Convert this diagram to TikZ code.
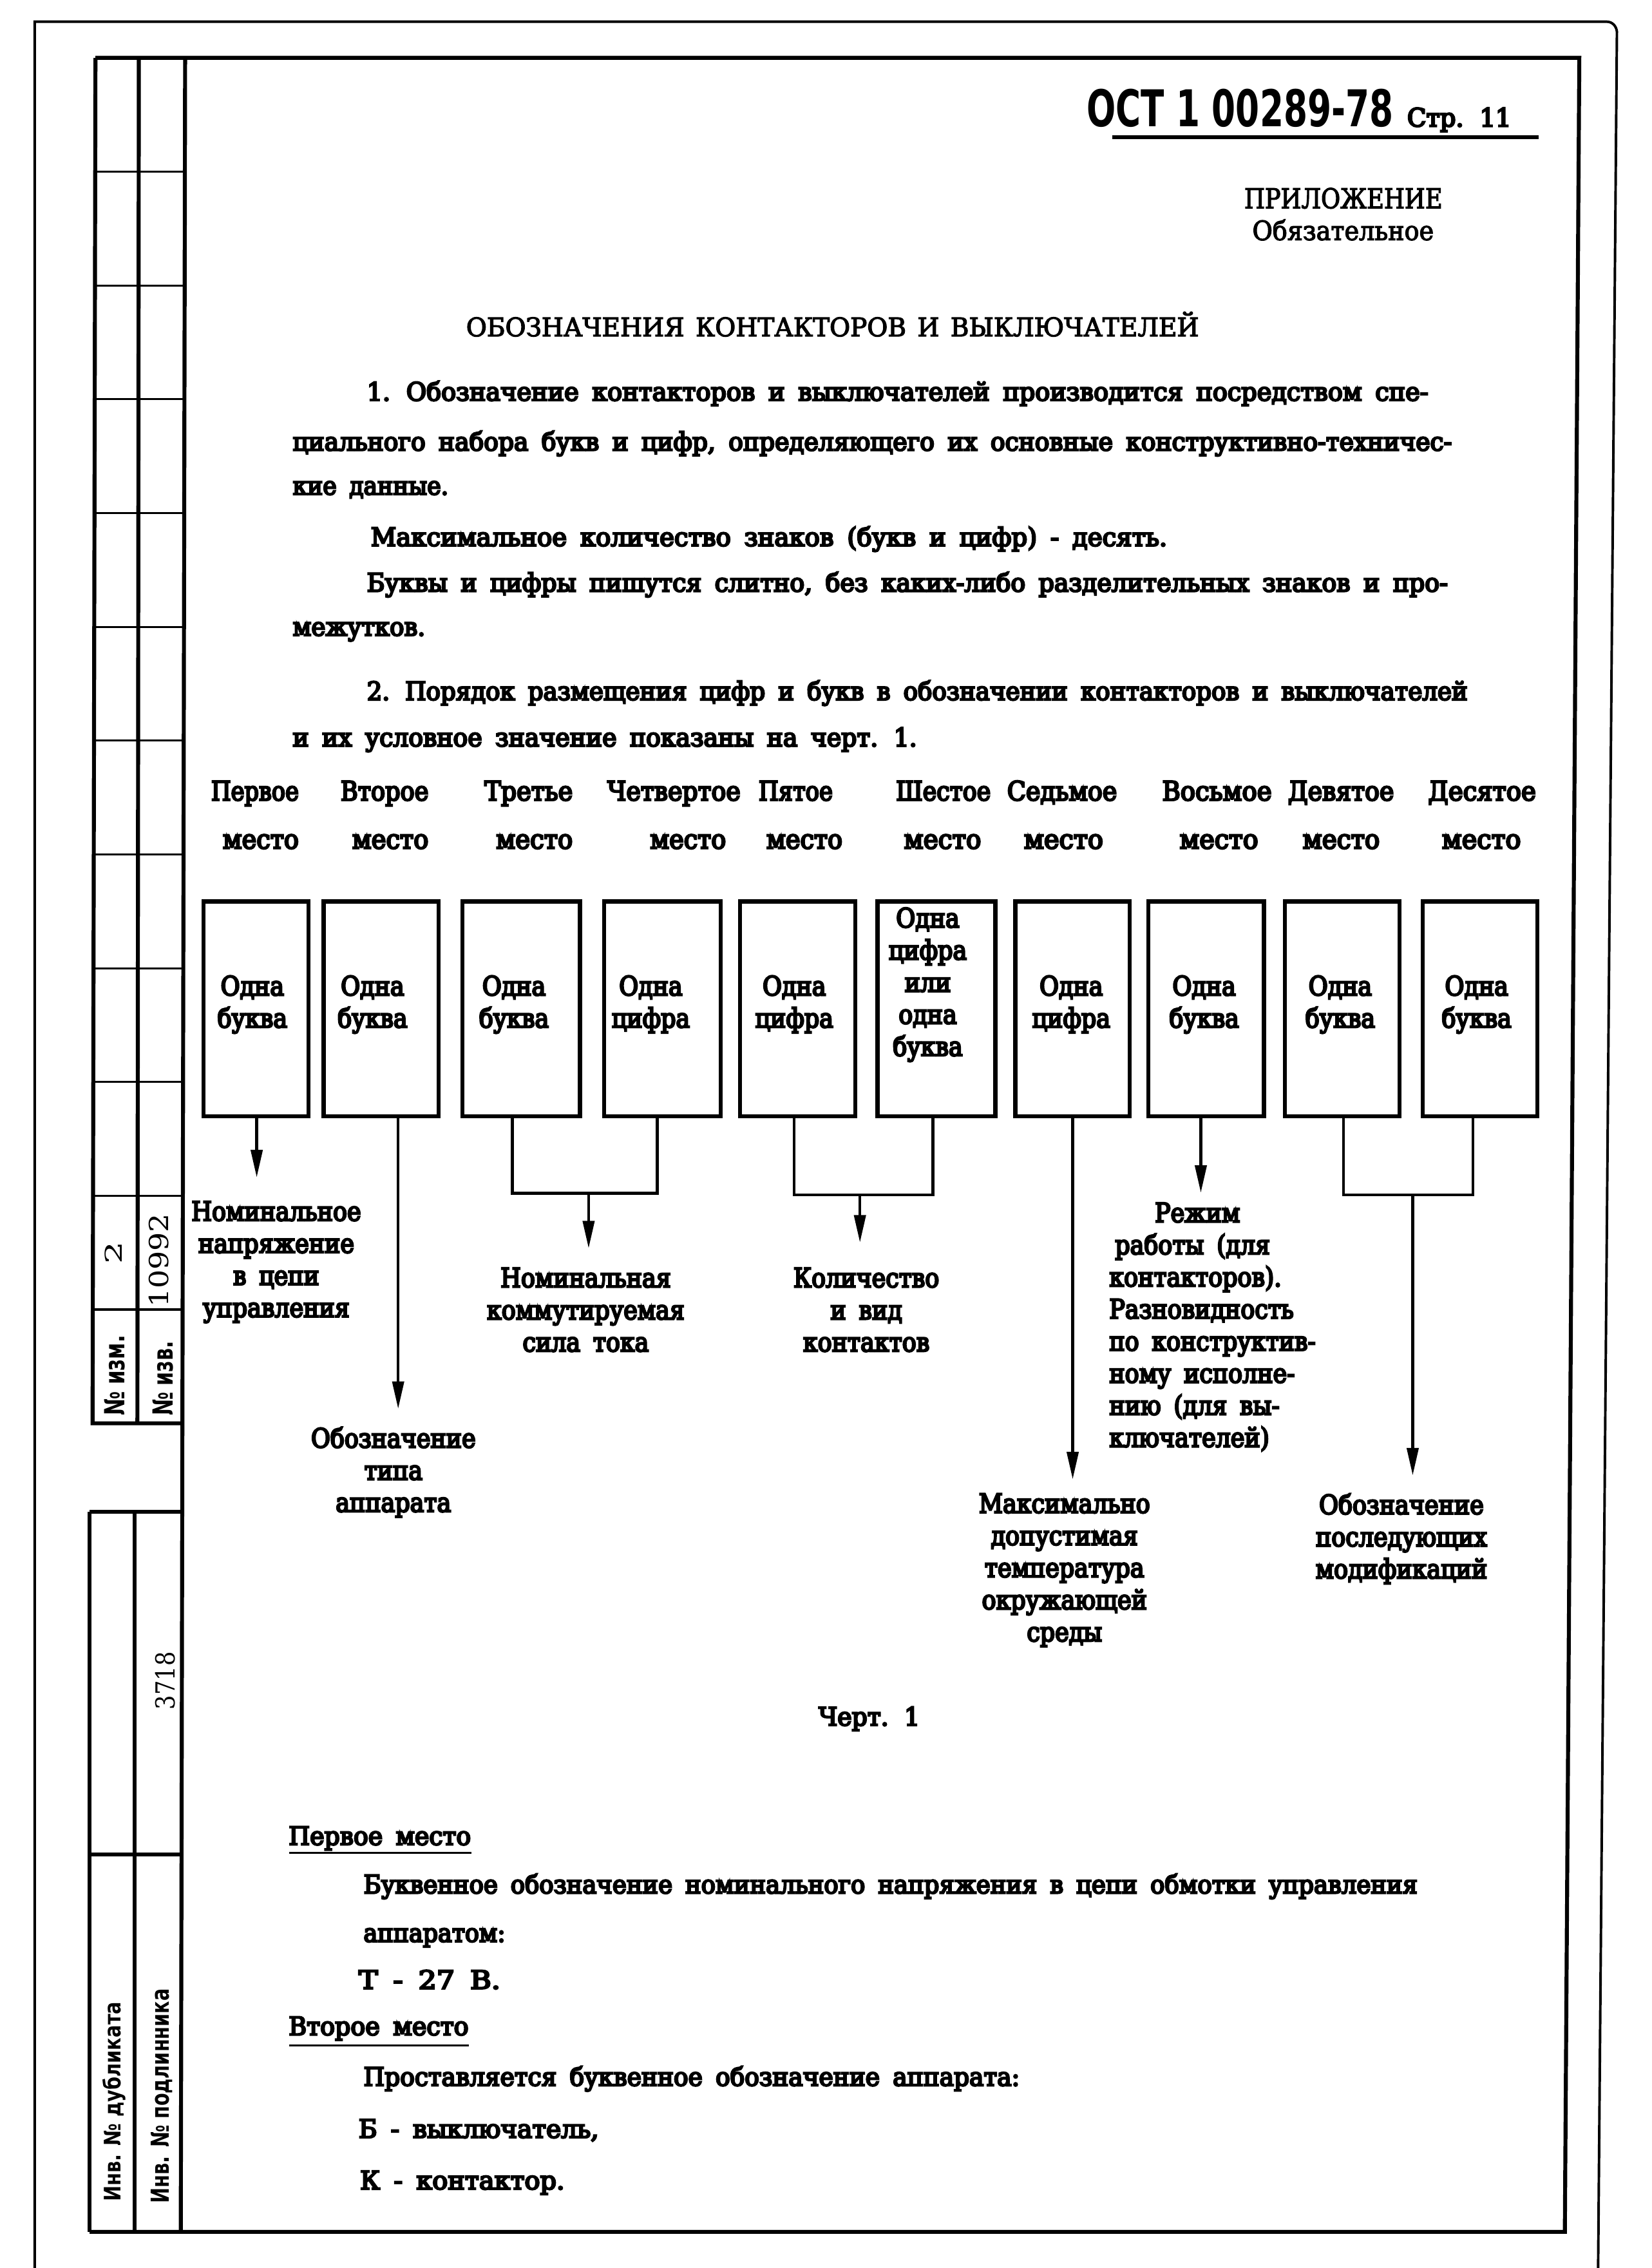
\documentclass[tikz,border=0pt]{standalone}
\usepackage{fontspec}
\usepackage{graphicx}
\usetikzlibrary{arrows.meta}
\setmainfont{DejaVu Serif}
\newfontfamily\bodyf{DejaVu Serif}[FakeStretch=0.88,FakeBold=6,WordSpace=1.7]
\newfontfamily\titf{DejaVu Serif}[FakeStretch=0.9,FakeBold=3,WordSpace=1.4]
\newfontfamily\hdrf{DejaVu Sans}
\newfontfamily\stripserif{DejaVu Serif}
\newdimen\upx \upx=0.2mm
\newcommand{\fitw}[2]{\resizebox{#1\upx}{\height}{#2}}
\newcommand{\fithw}[3]{\resizebox{#1\upx}{#2\upx}{#3}}
\newcommand{\bodytx}{\bodyf\fontsize{10}{12}\selectfont}
\newcommand{\labtx}{\bodyf\fontsize{10.5}{12.63}\selectfont}
\begin{document}
\begin{tikzpicture}[x=0.2mm,y=-0.2mm,
  frame/.style={line width=0.55mm},
  pageline/.style={line width=0.35mm},
  cell/.style={line width=0.28mm},
  conn/.style={line width=0.38mm},
  arr/.style={conn,-{Triangle[length=3.8mm,width=1.6mm]}},
  box/.style={draw,line width=0.55mm,inner sep=0pt,minimum height=29.7mm},
  txt/.style={inner sep=0pt,outer sep=0pt,font=\bodytx},
  lab/.style={inner sep=0pt,outer sep=0pt,font=\labtx},
  btxt/.style={lab,align=center,anchor=north},
  strip/.style={inner sep=0pt,outer sep=0pt,rotate=90}]
\useasboundingbox (0,0) rectangle (1142,1568);
\fill[white] (0,0) rectangle (1142,1568);

% page edge
\draw[pageline] (24,1568) -- (24,15) -- (1111,15) to[out=0,in=95] (1118,22) -- (1105,1568);

% main frame
\draw[frame] (62,1543) -- (1082,1543) -- (1092,40) -- (66,40);
\draw[frame] (128,40) -- (125,1543);
% upper strip
\draw[frame] (66,40) -- (64,984) -- (126.5,984);
\draw[frame] (96,40) -- (95,984);
\foreach \k in {1,...,11} {
  \pgfmathsetmacro\yy{40+\k*78.67}
  \draw[cell] (65.5,\yy) -- (127.5,\yy);
}
% lower strip
\draw[frame] (62,1045) -- (126,1045);
\draw[frame] (62,1045) -- (62,1543);
\draw[frame] (93,1045) -- (93,1543);
\draw[frame] (62,1282) -- (125.5,1282);

% strip texts
\node[strip] (n2) at (78.5,866) {\fithw{15.6}{11.9}{\stripserif 2}};
\node[strip] (n10992) at (109.8,871.5) {\fithw{65}{13.5}{\stripserif 10992}};
\node[strip] (nizm) at (79.5,951) {\fithw{55.6}{14}{\hdrf\bfseries № изм.}};
\node[strip] (nizv) at (112.5,953) {\fithw{51.6}{14}{\hdrf\bfseries № изв.}};
\node[strip] (n3718) at (114.3,1162) {\fithw{40}{13.5}{\stripserif 3718}};
\node[strip] (ndub) at (79,1453) {\fithw{138}{12.5}{\hdrf\bfseries Инв. № дубликата}};
\node[strip] (npod) at (112,1449) {\fithw{148}{12.5}{\hdrf\bfseries Инв. № подлинника}};

% header
\node[inner sep=0pt,anchor=base west] (ost) at (751,87.5) {\fithw{212}{26}{\hdrf\bfseries ОСТ 1 00289-78}};
\node[txt,anchor=base west] (str) at (973,87.5) {\fitw{72}{Стр. 11}};
\draw[line width=0.55mm] (769,95) -- (1064,95);

\node[inner sep=0pt,anchor=base west,font=\titf\fontsize{10.8}{13}\selectfont] (app) at (860,144) {\fitw{137}{ПРИЛОЖЕНИЕ}};
\node[inner sep=0pt,anchor=base west,font=\titf\fontsize{10.5}{13}\selectfont] (obzat) at (865.6,166) {\fitw{125.4}{Обязательное}};
\node[inner sep=0pt,anchor=base west,font=\titf\fontsize{10.1}{13}\selectfont] (title) at (322,232.5) {\fitw{506.6}{ОБОЗНАЧЕНИЯ КОНТАКТОРОВ И ВЫКЛЮЧАТЕЛЕЙ}};

% paragraph text
\node[txt,anchor=base west] (p1) at (253.7,277) {\fitw{733.8}{1. Обозначение контакторов и выключателей производится посредством спе-}};
\node[txt,anchor=base west] (p2) at (202.4,311.5) {\fitw{801.4}{циального набора букв и цифр, определяющего их основные конструктивно-техничес-}};
\node[txt,anchor=base west] (p3) at (202.4,342) {\fitw{107.6}{кие данные.}};
\node[txt,anchor=base west] (p4) at (256.4,377.5) {\fitw{550.6}{Максимальное количество знаков (букв и цифр) - десять.}};
\node[txt,anchor=base west] (p5) at (253.7,409) {\fitw{747.3}{Буквы и цифры пишутся слитно, без каких-либо разделительных знаков и про-}};
\node[txt,anchor=base west] (p6) at (202.4,439.5) {\fitw{91.6}{межутков.}};
\node[txt,anchor=base west] (p7) at (253.7,484) {\fitw{761}{2. Порядок размещения цифр и букв в обозначении контакторов и выключателей}};
\node[txt,anchor=base west] (p8) at (202.4,516) {\fitw{431.6}{и их условное значение показаны на черт. 1.}};

% column headings
\foreach \nm/\xa/\wa/\ta/\xb/\wb in {
  1/146/60.6/Первое/154/52.6,
  2/235.5/60.8/Второе/243.5/52.8,
  3/335/61/Третье/343/53,
  4/420/92/Четвертое/449.5/52.5,
  5/524.5/51.3/Пятое/530/52.5,
  6/619.5/65.5/Шестое/625/53.4,
  7/696.4/75.9/Седьмое/708/54.8,
  8/803.6/75.7/Восьмое/815.6/54.4,
  9/890.6/73.2/Девятое/900.7/53.3,
  10/987.5/74.5/Десятое/997/54.6} {
  \node[lab,anchor=base west] (h\nm a) at (\xa,553.4) {\fitw{\wa}{\ta}};
  \node[lab,anchor=base west] (h\nm b) at (\xb,586.7) {\fitw{\wb}{место}};
}

% boxes
\node[box,minimum width=14.5mm]  (b1)  at (176.9,697.5) {};
\node[box,minimum width=15.88mm] (b2)  at (263.45,697.5) {};
\node[box,minimum width=16.28mm] (b3)  at (360.35,697.5) {};
\node[box,minimum width=16.12mm] (b4)  at (457.85,697.5) {};
\node[box,minimum width=15.98mm] (b5)  at (551.6,697.5) {};
\node[box,minimum width=16.3mm]  (b6)  at (647.5,697.5) {};
\node[box,minimum width=15.84mm] (b7)  at (741.65,697.5) {};
\node[box,minimum width=15.98mm] (b8)  at (834,697.5) {};
\node[box,minimum width=15.86mm] (b9)  at (928.1,697.5) {};
\node[box,minimum width=15.84mm] (b10) at (1023.45,697.5) {};

\node[btxt] (b1t)  at (174.5,674.5) {Одна\\буква};
\node[btxt] (b2t)  at (257.6,674.5) {Одна\\буква};
\node[btxt] (b3t)  at (355.4,674.5) {Одна\\буква};
\node[btxt] (b4t)  at (450,674.5)   {Одна\\цифра};
\node[btxt] (b5t)  at (549.2,674.5) {Одна\\цифра};
\node[btxt] (b6t)  at (641.5,627.5) {Одна\\цифра\\или\\одна\\буква};
\node[btxt] (b7t)  at (740.7,674.5) {Одна\\цифра};
\node[btxt] (b8t)  at (832.6,674.5) {Одна\\буква};
\node[btxt] (b9t)  at (926.7,674.5) {Одна\\буква};
\node[btxt] (b10t) at (1021,674.5)  {Одна\\буква};

% connector points
\coordinate (s1) at (177.5,814);
\coordinate (s2) at (275.3,974);
\coordinate (s3) at (354.3,825);
\coordinate (s4) at (454.4,825);
\coordinate (j34) at (407,825);
\coordinate (t34) at (407,863);
\coordinate (s5) at (549.2,826);
\coordinate (s6) at (645,826);
\coordinate (j56) at (594.6,826);
\coordinate (t56) at (594.6,859);
\coordinate (s7) at (741.7,1022.7);
\coordinate (s8) at (830.3,824.6);
\coordinate (s9) at (929,826);
\coordinate (s10) at (1018.3,826);
\coordinate (j910) at (976.8,826);
\coordinate (t910) at (976.8,1020);

\draw[arr] (b1.south -| s1) -- (s1);
\draw[arr] (b2.south -| s2) -- (s2);
\draw[conn] (b3.south -| s3) -- (s3) -- (s4) -- (b4.south -| s4);
\draw[arr] (j34) -- (t34);
\draw[conn] (b5.south -| s5) -- (s5) -- (s6) -- (b6.south -| s6);
\draw[arr] (j56) -- (t56);
\draw[arr] (b7.south -| s7) -- (s7);
\draw[arr] (b8.south -| s8) -- (s8);
\draw[conn] (b9.south -| s9) -- (s9) -- (s10) -- (b10.south -| s10);
\draw[arr] (j910) -- (t910);

% labels
\node[btxt] (l1) at (191,830.5) {Номинальное\\напряжение\\в цепи\\управления};
\node[btxt] (l2) at (272,986.5) {Обозначение\\типа\\аппарата};
\node[btxt] (l3) at (405,876.5) {Номинальная\\коммутируемая\\сила тока};
\node[btxt] (l4) at (599,876.5) {Количество\\и вид\\контактов};
\node[lab,align=left,anchor=north west] (l5) at (767,831.5) {\hspace*{6.3mm}Режим\\\hspace*{0.8mm}работы (для\\контакторов).\\Разновидность\\по конструктив-\\ному исполне-\\нию (для вы-\\ключателей)};
\node[btxt] (l6) at (736,1032.5) {Максимально\\допустимая\\температура\\окружающей\\среды};
\node[btxt] (l7) at (969,1032.5) {Обозначение\\последующих\\модификаций};

\node[txt,anchor=base west] (chert) at (566,1193) {\fitw{70}{Черт. 1}};

% lower text
\node[txt,anchor=base west] (pm) at (199.6,1275.5) {\fitw{126}{Первое место}};
\draw[cell] (200,1281) -- (326,1281);
\node[txt,anchor=base west] (q1) at (251.4,1309) {\fitw{728.6}{Буквенное обозначение номинального напряжения в цепи обмотки управления}};
\node[txt,anchor=base west] (q2) at (251.4,1342.5) {\fitw{98}{аппаратом:}};
\node[txt,anchor=base west] (q3) at (248,1375) {\fitw{98}{Т - 27 В.}};
\node[txt,anchor=base west] (vm) at (199.6,1407) {\fitw{124.4}{Второе место}};
\draw[cell] (200,1414) -- (324,1414);
\node[txt,anchor=base west] (q4) at (251.4,1442) {\fitw{453.6}{Проставляется буквенное обозначение аппарата:}};
\node[txt,anchor=base west] (q5) at (248,1478) {\fitw{166}{Б - выключатель,}};
\node[txt,anchor=base west] (q6) at (249,1513.6) {\fitw{141.4}{К - контактор.}};
\end{tikzpicture}
\end{document}
